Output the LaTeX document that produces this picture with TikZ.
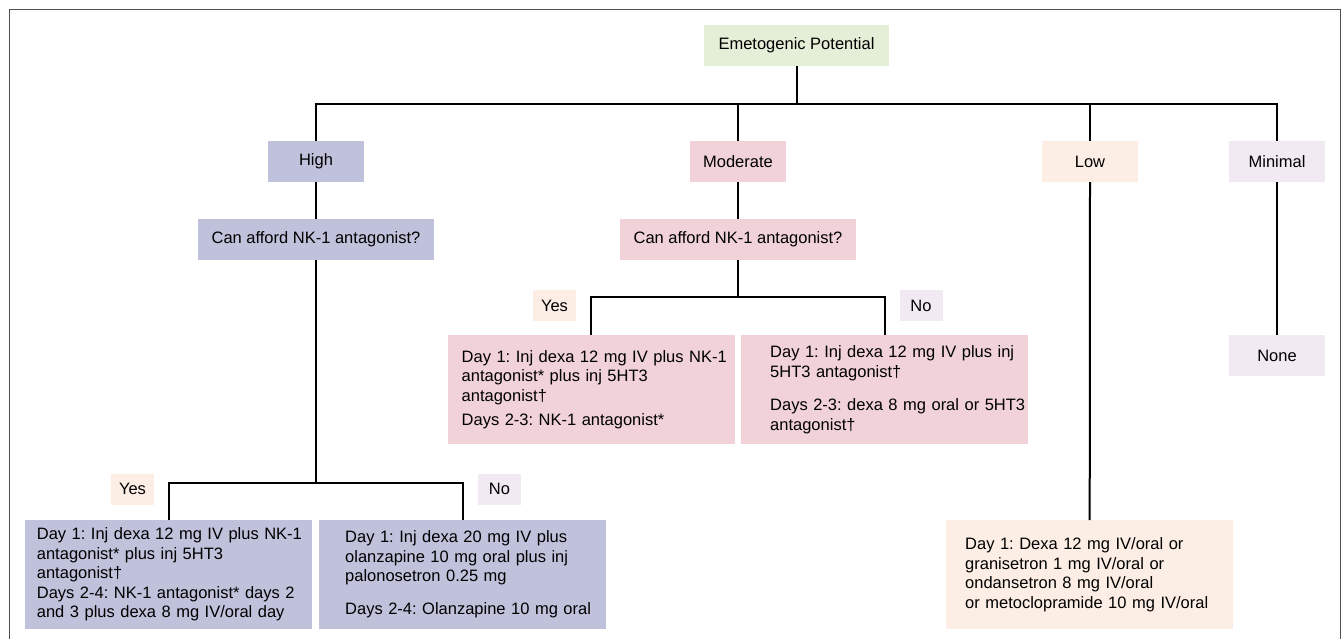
\documentclass[tikz,border=0pt]{standalone}
\usepackage{fontspec}
\setmainfont{Liberation Sans}
\frenchspacing
\definecolor{cgreen}{HTML}{E5EED7}
\definecolor{chigh}{HTML}{C0C2DC}
\definecolor{cmod}{HTML}{F0D2D8}
\definecolor{clow}{HTML}{FCEEE4}
\definecolor{cmin}{HTML}{F1EAF2}
\definecolor{cframe}{HTML}{505050}
\newcommand\PadText[2]{\leftskip=#1\relax #2\par}
\begin{document}
\begin{tikzpicture}[x=1pt,y=-1pt,
  every node/.style={font=\fontsize{16.5}{19.5}\selectfont, inner sep=0pt},
  box/.style={fill=#1, minimum height=41pt},
  lab/.style={fill=#1, minimum width=43pt, minimum height=31pt},
  txtbox/.style={fill=#1, align=left, minimum height=109pt, anchor=north west},
  conn/.style={draw=black, line width=2pt}
]
\useasboundingbox (0,0) rectangle (1344,638);
\draw[cframe, line width=1pt] (9,640) -- (9,9) -- (1340,9) -- (1340,640);

% level 0
\node[box=cgreen, minimum width=185pt] (em) at (796.5,45.5) {Emetogenic Potential};
% level 1
\node[box=chigh, minimum width=96pt] (high) at (316,161.5) {High};
\node[box=cmod, minimum width=96pt] (mod) at (738,161.5) {Moderate};
\node[box=clow, minimum width=96pt] (low) at (1090,161.5) {Low};
\node[box=cmin, minimum width=96pt] (min) at (1277,161.5) {Minimal};
% questions
\node[box=chigh, minimum width=236pt] (hq) at (316,239.5) {Can afford NK-1 antagonist?};
\node[box=cmod, minimum width=236pt] (mq) at (738,239.5) {Can afford NK-1 antagonist?};
% labels
\node[lab=clow] (myes) at (554.5,305.5) {Yes};
\node[lab=cmin] (mno) at (921,305.5) {No};
\node[lab=clow] (hyesl) at (132.5,489) {Yes};
\node[lab=cmin] (hnol) at (499.5,489) {No};
% moderate outcomes
\node[txtbox=cmod, text width=287pt] (myesb) at (447.5,335) {\PadText{14pt}{Day 1: Inj dexa 12 mg IV plus NK-1\\antagonist* plus inj 5HT3\\antagonist†\\[4.5pt]Days 2-3: NK-1 antagonist*}};
\node[txtbox=cmod, text width=287pt] (mnob) at (741,335) {\PadText{29pt}{Day 1: Inj dexa 12 mg IV plus inj\\5HT3 antagonist†\\[14pt]Days 2-3: dexa 8 mg oral or 5HT3\\antagonist†}};
% none
\node[box=cmin, minimum width=96pt] (none) at (1277,355.5) {None};
% high outcomes
\node[txtbox=chigh, text width=287pt] (hyesb) at (25,520) {\PadText{11.7pt}{Day 1: Inj dexa 12 mg IV plus NK-1\\antagonist* plus inj 5HT3\\antagonist†\\Days 2-4: NK-1 antagonist* days 2\\and 3 plus dexa 8 mg IV/oral day}};
\node[txtbox=chigh, text width=287pt] (hnob) at (319,520) {\PadText{26pt}{Day 1: Inj dexa 20 mg IV plus\\olanzapine 10 mg oral plus inj\\palonosetron 0.25 mg\\[13.5pt]Days 2-4: Olanzapine 10 mg oral}};
% low outcome
\node[txtbox=clow, text width=287pt] (lowb) at (946,520) {\PadText{19pt}{Day 1: Dexa 12 mg IV/oral or\\granisetron 1 mg IV/oral or\\ondansetron 8 mg IV/oral\\or metoclopramide 10 mg IV/oral}};

% connectors
\coordinate (bus) at (796.5,103.5);
\coordinate (hb) at (316,482.5);
\coordinate (mb) at (738,297);
\draw[conn] (em.south) -- (bus);
\draw[conn] (high.north) |- (bus) -| (min.north);
\draw[conn] (mod.north) -- (mod.north |- bus);
\draw[conn] (low.north) -- (low.north |- bus);
\draw[conn] (high.south) -- (hq.north);
\draw[conn] (mod.south) -- (mq.north);
\draw[conn] (hq.south) -- (hb);
\draw[conn] (hyesb.north) |- (hb) -| (hnob.north);
\draw[conn] (mq.south) -- (mb);
\draw[conn] (myesb.north) |- (mb) -| (mnob.north);
\draw[conn] (low.south) -- (lowb.north);
\draw[conn] (min.south) -- (none.north);
\end{tikzpicture}
\end{document}
